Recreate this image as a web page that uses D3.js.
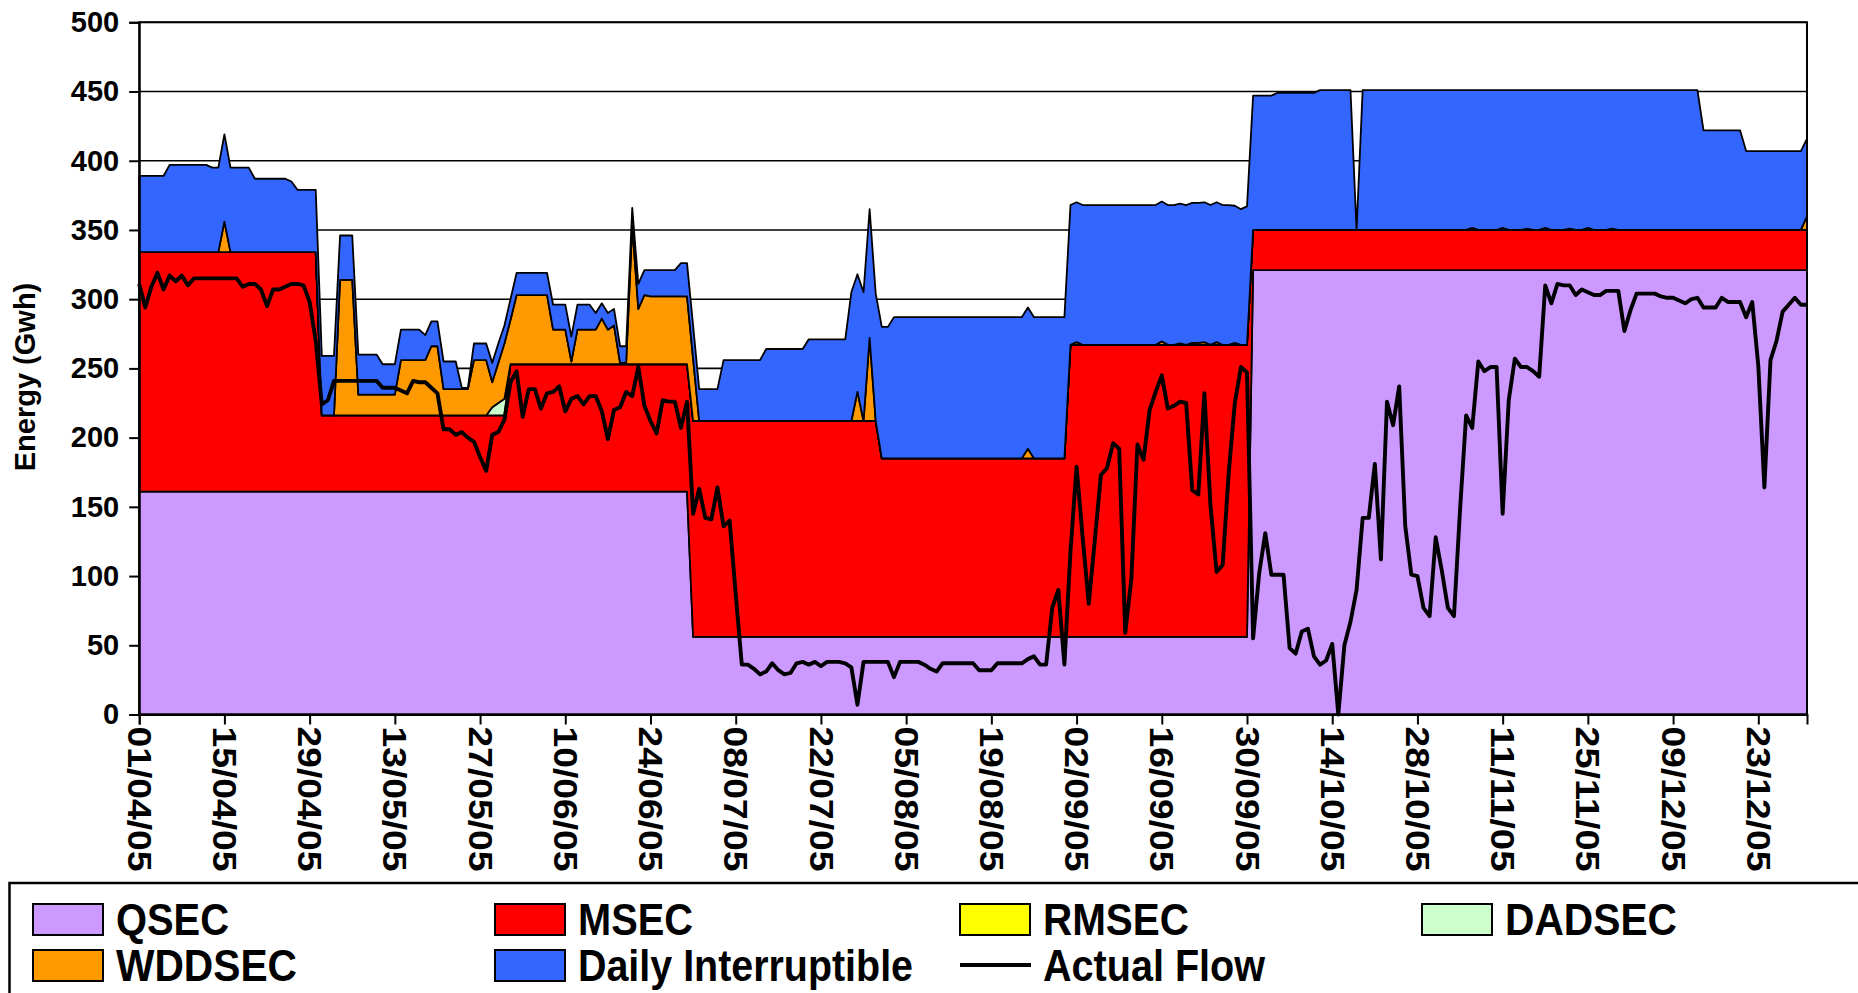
<!DOCTYPE html>
<html><head><meta charset="utf-8">
<script src="https://cdn.jsdelivr.net/npm/d3@7/dist/d3.min.js"></script>
<style>
html,body{margin:0;padding:0;background:#fff;overflow:hidden;}
svg{display:block;}
text{font-family:"Liberation Sans",Arial,Helvetica,sans-serif;font-weight:bold;fill:#000;}
</style></head><body>
<svg id="chart" width="1858" height="993"></svg>
<script>
// ---------------- DATA (daily values, 01/04/05 .. 31/12/05) ----------------
const seriesNames  = ["QSEC", "MSEC", "RMSEC", "DADSEC", "WDDSEC", "Daily Interruptible"];
const seriesColors = ["#CC99FF", "#FF0000", "#FFFF00", "#CCFFCC", "#FF9900", "#3366FF"];

const QSEC = [
  // Apr
  161,161,161,161,161,161,161,161,161,161, 161,161,161,161,161,161,161,161,161,161, 161,161,161,161,161,161,161,161,161,161,
  // May
  161,161,161,161,161,161,161,161,161,161, 161,161,161,161,161,161,161,161,161,161, 161,161,161,161,161,161,161,161,161,161, 161,
  // Jun
  161,161,161,161,161,161,161,161,161,161, 161,161,161,161,161,161,161,161,161,161, 161,161,161,161,161,161,161,161,161,161,
  // Jul
  56,56,56,56,56,56,56,56,56,56, 56,56,56,56,56,56,56,56,56,56, 56,56,56,56,56,56,56,56,56,56, 56,
  // Aug
  56,56,56,56,56,56,56,56,56,56, 56,56,56,56,56,56,56,56,56,56, 56,56,56,56,56,56,56,56,56,56, 56,
  // Sep
  56,56,56,56,56,56,56,56,56,56, 56,56,56,56,56,56,56,56,56,56, 56,56,56,56,56,56,56,56,56,56,
  // Oct
  321,321,321,321,321,321,321,321,321,321, 321,321,321,321,321,321,321,321,321,321, 321,321,321,321,321,321,321,321,321,321, 321,
  // Nov
  321,321,321,321,321,321,321,321,321,321, 321,321,321,321,321,321,321,321,321,321, 321,321,321,321,321,321,321,321,321,321,
  // Dec
  321,321,321,321,321,321,321,321,321,321, 321,321,321,321,321,321,321,321,321,321, 321,321,321,321,321,321,321,321,321,321, 321
];

const MSEC = [
  // Apr
  173,173,173,173,173,173,173,173,173,173, 173,173,173,173,173,173,173,173,173,173, 173,173,173,173,173,173,173,173,173,173,
  // May
  55,55,55,55,55,55,55,55,55,55, 55,55,55,55,55,55,55,55,55,55, 55,55,55,55,55,55,55,55,55,55, 55,
  // Jun
  92,92,92,92,92,92,92,92,92,92, 92,92,92,92,92,92,92,92,92,92, 92,92,92,92,92,92,92,92,92,92,
  // Jul
  156,156,156,156,156,156,156,156,156,156, 156,156,156,156,156,156,156,156,156,156, 156,156,156,156,156,156,156,156,156,156, 156,
  // Aug
  129,129,129,129,129,129,129,129,129,129, 129,129,129,129,129,129,129,129,129,129, 129,129,129,129,129,129,129,129,129,129, 129,
  // Sep
  211,211,211,211,211,211,211,211,211,211, 211,211,211,211,211,211,211,211,211,211, 211,211,211,211,211,211,211,211,211,211,
  // Oct
  29,29,29,29,29,29,29,29,29,29, 29,29,29,29,29,29,29,29,29,29, 29,29,29,29,29,29,29,29,29,29, 29,
  // Nov
  29,29,29,29,29,29,29,29,29,29, 29,29,29,29,29,29,29,29,29,29, 29,29,29,29,29,29,29,29,29,29,
  // Dec
  29,29,29,29,29,29,29,29,29,29, 29,29,29,29,29,29,29,29,29,29, 29,29,29,29,29,29,29,29,29,29, 29
];

const RMSEC = [
  // Apr
  0,0,0,0,0,0,0,0,0,0, 0,0,0,0,0,0,0,0,0,0, 0,0,0,0,0,0,0,0,0,0,
  // May
  0,0,0,0,0,0,0,0,0,0, 0,0,0,0,0,0,0,0,0,0, 0,0,0,0,0,0,0,0,0,0, 0,
  // Jun
  0,0,0,0,0,0,0,0,0,0, 0,0,0,0,0,0,0,0,0,0, 0,0,0,0,0,0,0,0,0,0,
  // Jul
  0,0,0,0,0,0,0,0,0,0, 0,0,0,0,0,0,0,0,0,0, 0,0,0,0,0,0,0,0,0,0, 0,
  // Aug
  0,0,0,0,0,0,0,0,0,0, 0,0,0,0,0,0,0,0,0,0, 0,0,0,0,0,0,0,0,0,0, 0,
  // Sep
  0,0,0,0,0,0,0,0,0,0, 0,0,0,0,0,0,0,0,0,0, 0,0,0,0,0,0,0,0,0,0,
  // Oct
  0,0,0,0,0,0,0,0,0,0, 0,0,0,0,0,0,0,0,0,0, 0,0,0,0,0,0,0,0,0,0, 0,
  // Nov
  0,0,0,0,0,0,0,0,0,0, 0,0,0,0,0,0,0,0,0,0, 0,0,0,0,0,0,0,0,0,0,
  // Dec
  0,0,0,0,0,0,0,0,0,0, 0,0,0,0,0,0,0,0,0,0, 0,0,0,0,0,0,0,0,0,0, 0
];

const DADSEC = [
  // Apr
  0,0,0,0,0,0,0,0,0,0, 0,0,0,0,0,0,0,0,0,0, 0,0,0,0,0,0,0,0,0,0,
  // May
  0,0,0,0,0,0,0,0,0,0, 0,0,0,0,0,0,0,0,0,0, 0,0,0,0,0,0,0,0,6,9, 12,
  // Jun
  0,0,0,0,0,0,0,0,0,0, 0,0,0,0,0,0,0,0,0,0, 0,0,0,0,0,0,0,0,0,0,
  // Jul
  0,0,0,0,0,0,0,0,0,0, 0,0,0,0,0,0,0,0,0,0, 0,0,0,0,0,0,0,0,0,0, 0,
  // Aug
  0,0,0,0,0,0,0,0,0,0, 0,0,0,0,0,0,0,0,0,0, 0,0,0,0,0,0,0,0,0,0, 0,
  // Sep
  0,0,0,0,0,0,0,0,0,0, 0,0,0,0,0,0,0,0,0,0, 0,0,0,0,0,0,0,0,0,0,
  // Oct
  0,0,0,0,0,0,0,0,0,0, 0,0,0,0,0,0,0,0,0,0, 0,0,0,0,0,0,0,0,0,0, 0,
  // Nov
  0,0,0,0,0,0,0,0,0,0, 0,0,0,0,0,0,0,0,0,0, 0,0,0,0,0,0,0,0,0,0,
  // Dec
  0,0,0,0,0,0,0,0,0,0, 0,0,0,0,0,0,0,0,0,0, 0,0,0,0,0,0,0,0,0,0, 0
];

const WDDSEC = [
  // Apr
  0,0,0,0,0,0,0,0,0,0, 0,0,0,0,22,0,0,0,0,0, 0,0,0,0,0,0,0,0,0,0,
  // May
  0,0,0,98,98,98,15,15,15,15, 15,15,15,40,40,40,40,40,50,50, 19,19,19,19,19,40,40,40,18,29, 40,
  // Jun
  32,50,50,50,50,50,50,25,25,25, 2,25,25,25,25,33,25,28,1,1, 100,40,50,49,49,49,49,49,49,49,
  // Jul
  45,0,0,0,0,0,0,0,0,0, 0,0,0,0,0,0,0,0,0,0, 0,0,0,0,0,0,0,21,0,60, 0,
  // Aug
  0,0,0,0,0,0,0,0,0,0, 0,0,0,0,0,0,0,0,0,0, 0,0,0,0,7,0,0,0,0,0, 0,
  // Sep
  0,2,0,0,0,0,0,0,0,0, 0,0,0,0,0,2.5,0,0,1,0, 1.5,1.5,2,0,2,0,0,1.5,0,0,
  // Oct
  0,0,0,0,0,0,0,0,0,0, 0,0,0,0,0,0,0,0,0,0, 0,0,0,0,0,0,0,0,0,0, 0,
  // Nov
  0,0,0,0,0,1.5,0,0,0,0, 1.5,0,0,0,1,0,0,1.5,0,0, 0,1,0,0,1.5,0,0,0,1,0,
  // Dec
  0,0,0,0,0,0,0,0,0,0, 0,0,0,0,0,0,0,0,0,0, 0,0,0,0,0,0,0,0,0,0, 10
];

const DailyInterruptible = [
  // Apr
  55,55,55,55,55,63,63,63,63,63, 63,63,61,61,63,61,61,61,61,53, 53,53,53,53,53,51,45,45,45,45,
  // May
  43,43,43,32,32,32,29,29,29,29, 22,22,22,22,22,22,22,18,18,18, 20,20,20,1,1,12,12,12,14,14, 13,
  // Jun
  15,16,16,16,16,16,16,18,18,18, 18,18,18,18,12,11,12,12,12,12, 13,18,18,19,19,19,19,19,24,24,
  // Jul
  24,23,23,23,23,44,44,44,44,44, 44,44,52,52,52,52,52,52,52,59, 59,59,59,59,59,59,93,85,93,93, 92,
  // Aug
  95,95,102,102,102,102,102,102,102,102, 102,102,102,102,102,102,102,102,102,102, 102,102,102,102,102,102,102,102,102,102, 102,
  // Sep
  101,101,101,101,101,101,101,101,101,101, 101,101,101,101,101,101,101,101,101,101, 101,101,101,101,101,101,101,99,98,100,
  // Oct
  97,97,97,97,99,99,99,99,99,99, 99,101,101,101,101,101,101,0,101,101, 101,101,101,101,101,101,101,101,101,101, 101,
  // Nov
  101,101,101,101,101,99.5,101,101,101,101, 99.5,101,101,101,100,101,101,99.5,101,101, 101,100,101,101,99.5,101,101,101,100,101,
  // Dec
  101,101,101,101,101,101,101,101,101,101, 101,101,101,72,72,72,72,72,72,72, 57,57,57,57,57,57,57,57,57,57, 56
];

const ActualFlow = [
  // Apr
  311,294,309,319,307,317,313,317,310,315, 315,315,315,315,315,315,315,309,311,311, 307,295,307,307,309,311,311,310,298,270,
  // May
  224,227,241,241,241,241,241,241,241,241, 236,236,236,234,232,241,240,240,236,232, 206,206,202,204,200,197,186,176,202,204, 213,
  // Jun
  240,248,215,235,235,221,232,233,237,219, 228,230,224,230,230,219,199,220,222,233, 230,251,223,212,203,227,226,226,207,226,
  // Jul
  145,163,142,141,164,136,140,87,36,36, 33,29,31,37,32,29,30,37,38,36, 38,35,38,38,38,37,34,7,38,38, 38,
  // Aug
  38,38,27,38,38,38,38,36,33,31, 37,37,37,37,37,37,32,32,32,37, 37,37,37,37,40,42,36,36,77,90, 36,
  // Sep
  118,179,128,80,126,173,178,196,192,59, 98,195,184,220,233,245,221,223,226,225, 162,159,232,151,103,108,175,225,251,247,
  // Oct
  55,102,131,101,101,101,48,44,60,62, 42,36,39,51,0,50,67,90,142,142, 181,112,226,209,237,136,101,100,77,71, 128,
  // Nov
  104,77,71,148,216,207,255,248,251,251, 145,227,257,251,251,248,244,310,297,311, 310,310,303,307,305,303,303,306,306,306,
  // Dec
  277,292,304,304,304,304,302,301,301,299, 297,300,301,294,294,294,301,298,298,298, 287,298,252,164,256,270,291,296,301,296, 296
];

const tickLabels = ["01/04/05","15/04/05","29/04/05","13/05/05","27/05/05","10/06/05","24/06/05",
  "08/07/05","22/07/05","05/08/05","19/08/05","02/09/05","16/09/05","30/09/05","14/10/05",
  "28/10/05","11/11/05","25/11/05","09/12/05","23/12/05"];
const yTicks = [0,50,100,150,200,250,300,350,400,450,500];
const yTitle = "Energy (Gwh)";
const legendLabels = ["QSEC","MSEC","RMSEC","DADSEC","WDDSEC","Daily Interruptible","Actual Flow"];

// ---------------- CHART ----------------
const svg = d3.select("#chart");
const X0 = 139.2, X1 = 1807, Y0 = 714.5, Y1 = 22.3;

const dates = d3.utcDays(new Date(Date.UTC(2005,3,1)), new Date(Date.UTC(2006,0,1)));
const seriesArrays = [QSEC, MSEC, RMSEC, DADSEC, WDDSEC, DailyInterruptible];
const rows = dates.map((dt, i) => {
  const r = {date: dt};
  seriesNames.forEach((n, k) => r[n] = seriesArrays[k][i]);
  r.flow = ActualFlow[i];
  return r;
});

const x = d3.scaleUtc().domain([dates[0], dates[dates.length-1]]).range([X0, X1]);
const y = d3.scaleLinear().domain([0, 500]).range([Y0, Y1]);

// gridlines
svg.append("g").selectAll("line").data(yTicks.filter(v => v > 0)).join("line")
  .attr("x1", X0).attr("x2", X1).attr("y1", d => y(d)).attr("y2", d => y(d))
  .attr("stroke", "#000").attr("stroke-width", 1.6);

// stacked areas
const stack = d3.stack().keys(seriesNames);
const layers = stack(rows);
const area = d3.area().x(d => x(d.data.date)).y0(d => y(d[0])).y1(d => y(d[1]));
svg.append("g").selectAll("path").data(layers).join("path")
  .attr("d", area)
  .attr("fill", (d, i) => seriesColors[i])
  .attr("stroke", "#000").attr("stroke-width", 1.8).attr("stroke-linejoin", "round");

// actual flow
const line = d3.line().x(d => x(d.date)).y(d => y(d.flow));
svg.append("path").datum(rows).attr("d", line)
  .attr("fill", "none").attr("stroke", "#000").attr("stroke-width", 3.9)
  .attr("stroke-linejoin", "round");

// plot border
svg.append("rect").attr("x", X0).attr("y", Y1).attr("width", X1 - X0).attr("height", Y0 - Y1)
  .attr("fill", "none").attr("stroke", "#000").attr("stroke-width", 2);

// y axis
const yAxis = svg.append("g").attr("transform", `translate(${X0},0)`)
  .call(d3.axisLeft(y).tickValues(yTicks).tickSize(10).tickPadding(10).tickFormat(d3.format("d")));
yAxis.select(".domain").attr("stroke-width", 2);
yAxis.selectAll(".tick line").attr("stroke-width", 2);
yAxis.selectAll("text").attr("font-size", 29).attr("font-family", null).attr("font-weight", "bold");

// y title
svg.append("text").attr("transform", `translate(35,377) rotate(-90)`)
  .attr("text-anchor", "middle").attr("font-size", 29).text(yTitle);

// x axis
const parseTick = d3.utcParse("%d/%m/%y");
const tickDates = tickLabels.map(parseTick);
const xAxis = svg.append("g").attr("transform", `translate(0,${Y0})`)
  .call(d3.axisBottom(x).tickValues(tickDates).tickSize(10).tickFormat((d, i) => tickLabels[i]));
xAxis.select(".domain").attr("stroke-width", 2);
xAxis.selectAll(".tick line").attr("stroke-width", 2);
xAxis.selectAll("text")
  .attr("font-size", 33).attr("font-family", null)
  .attr("transform", "rotate(90)")
  .attr("text-anchor", "start")
  .attr("x", 12).attr("y", 0).attr("dy", "0.36em")
  .attr("textLength", 145).attr("lengthAdjust", "spacingAndGlyphs");

// legend
const lg = svg.append("g");
lg.append("rect").attr("x", 9.5).attr("y", 883).attr("width", 1900).attr("height", 200)
  .attr("fill", "#fff").attr("stroke", "#000").attr("stroke-width", 2.5);
const colX = [33, 495, 960, 1422];
const rowY = [904, 950];
const textLen = [113, 115, 146, 172, 181, 335, 222];
legendLabels.forEach((lab, i) => {
  const cx = colX[i % 4], ry = rowY[Math.floor(i / 4)];
  if (i < 6) {
    lg.append("rect").attr("x", cx).attr("y", ry).attr("width", 70).attr("height", 31)
      .attr("fill", seriesColors[i]).attr("stroke", "#000").attr("stroke-width", 2);
  } else {
    lg.append("line").attr("x1", cx).attr("x2", cx + 71).attr("y1", ry + 15).attr("y2", ry + 15)
      .attr("stroke", "#000").attr("stroke-width", 4);
  }
  lg.append("text").attr("x", cx + 83).attr("y", ry + 31).attr("font-size", 44)
    .attr("textLength", textLen[i]).attr("lengthAdjust", "spacingAndGlyphs").text(lab);
});
</script>
</body></html>
